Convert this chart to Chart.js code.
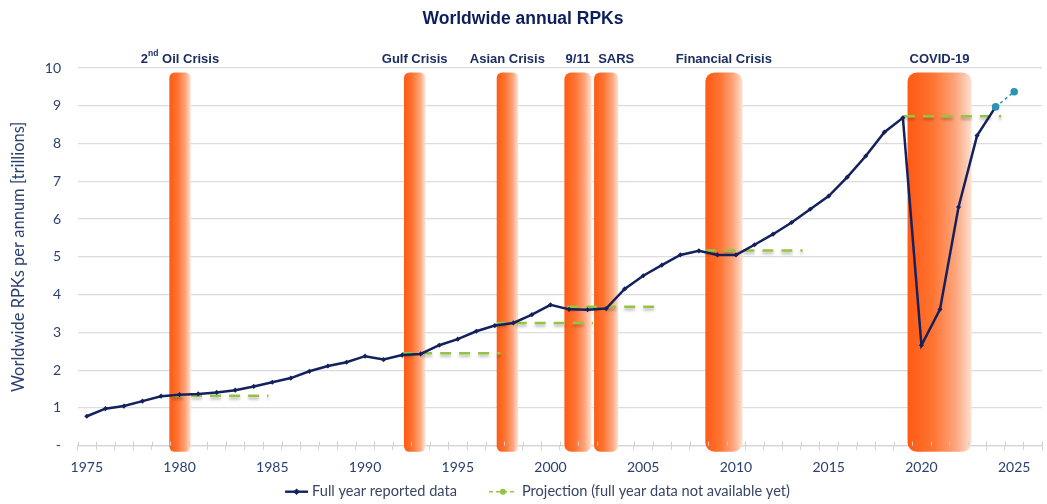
<!DOCTYPE html>
<html>
<head>
<meta charset="utf-8">
<title>Worldwide annual RPKs</title>
<script src="https://cdn.jsdelivr.net/npm/chart.js@4.4.1/dist/chart.umd.min.js"></script>
<style>
  html, body { margin: 0; padding: 0; background: #fff; }
  #wrap { width: 1047px; height: 504px; }
</style>
</head>
<body>
<div id="wrap"><canvas id="rpkChart"></canvas></div>
<script>
// full year reported RPKs, trillions
const years = [1975, 1976, 1977, 1978, 1979, 1980, 1981, 1982, 1983, 1984,
               1985, 1986, 1987, 1988, 1989, 1990, 1991, 1992, 1993, 1994,
               1995, 1996, 1997, 1998, 1999, 2000, 2001, 2002, 2003, 2004,
               2005, 2006, 2007, 2008, 2009, 2010, 2011, 2012, 2013, 2014,
               2015, 2016, 2017, 2018, 2019, 2020, 2021, 2022, 2023, 2024];
const rpk = [0.78, 0.98, 1.05, 1.18, 1.31, 1.35, 1.37, 1.41, 1.47, 1.57,
             1.68, 1.79, 1.97, 2.11, 2.21, 2.37, 2.28, 2.40, 2.43, 2.66,
             2.82, 3.03, 3.18, 3.25, 3.47, 3.73, 3.61, 3.60, 3.63, 4.15,
             4.50, 4.78, 5.05, 5.16, 5.05, 5.05, 5.32, 5.60, 5.91, 6.26,
             6.61, 7.11, 7.67, 8.30, 8.68, 2.66, 3.61, 6.32, 8.21, 8.97];

// projection (full year data not available yet)
const projYears = [2024, 2025];
const projRpk = [8.97, 9.37];

// crisis periods
const crisisNames = ['2nd Oil Crisis', 'Gulf Crisis', 'Asian Crisis', '9/11', 'SARS', 'Financial Crisis', 'COVID-19'];
const crisisStart = [1979.45, 1992.1, 1997.1, 2000.75, 2002.35, 2008.35, 2019.25];
const crisisEnd   = [1980.6, 1993.25, 1998.25, 2002.2, 2003.65, 2010.35, 2022.7];

// pre-crisis traffic level carried forward
const levelStart = [1979.6, 1992.0, 1997.1, 2000.9, 2008.35, 2019.05];
const levelEnd   = [1984.8, 1997.3, 2002.3, 2005.9, 2013.6, 2024.3];
const levelValue = [1.32, 2.45, 3.25, 3.68, 5.17, 8.72];

// axis labels
const xLabelYears = [1975, 1980, 1985, 1990, 1995, 2000, 2005, 2010, 2015, 2020, 2025];
const yTickValues = [0, 1, 2, 3, 4, 5, 6, 7, 8, 9, 10];

// legend entries
const legendTexts = ['Full year reported data', 'Projection (full year data not available yet)'];

const NAVY = '#14215c';
const TEAL = '#2a93b6';
const GREEN = '#95c540';
const TEXT = '#2b3f70';
const LABEL_FONT = 'bold 13px "Liberation Sans", Arial, sans-serif';
const SUP_FONT = 'bold 8.5px "Liberation Sans", Arial, sans-serif';
const LEGEND_FONT = '14.6px Lato, sans-serif';

// orange rounded bands behind the series, with labels above the plot
const crisisBands = {
    id: 'crisisBands',
    beforeDatasetsDraw(chart) {
        const {ctx, scales: {x, y}} = chart;
        const top = y.getPixelForValue(9.88);
        const bottom = y.getPixelForValue(0) + 6;
        ctx.save();
        crisisNames.forEach((name, i) => {
            const x0 = x.getPixelForValue(crisisStart[i]);
            const x1 = x.getPixelForValue(crisisEnd[i]);
            const w = x1 - x0;
            const grad = ctx.createLinearGradient(x0, 0, x1, 0);
            grad.addColorStop(0, '#ff5a14');
            grad.addColorStop(0.4, '#ff7432');
            grad.addColorStop(0.75, '#fda57c');
            grad.addColorStop(1, '#fde0d0');
            ctx.fillStyle = grad;
            ctx.beginPath();
            ctx.roundRect(x0, top, w, bottom - top, Math.min(9, w / 4));
            ctx.fill();
        });
        ctx.restore();
    },
    afterDraw(chart) {
        const {ctx, chartArea, scales: {x}} = chart;
        const ly = chartArea.top - 9;
        ctx.save();
        ctx.fillStyle = '#1b2d62';
        ctx.textBaseline = 'middle';
        ctx.textAlign = 'left';
        let prevRight = -Infinity;
        crisisNames.forEach((name, i) => {
            const m = name.match(/^(\d+)(st|nd|rd|th)(.*)$/);
            const parts = m ? [[m[1], 0], [m[2], 1], [m[3], 0]] : [[name, 0]];
            const widths = parts.map(([t, sup]) => {
                ctx.font = sup ? SUP_FONT : LABEL_FONT;
                return ctx.measureText(t).width;
            });
            const total = widths.reduce((a, b) => a + b, 0);
            const cx = (x.getPixelForValue(crisisStart[i]) + x.getPixelForValue(crisisEnd[i])) / 2;
            let left = cx - total / 2;
            if (left < prevRight + 8) left = prevRight + 8;
            let px = left;
            parts.forEach(([t, sup], k) => {
                ctx.font = sup ? SUP_FONT : LABEL_FONT;
                ctx.fillText(t, px, sup ? ly - 5 : ly);
                px += widths[k];
            });
            prevRight = left + total;
        });
        ctx.restore();
    }
};

// small tick marks across the x axis line, one between each year
const axisTicks = {
    id: 'axisTicks',
    afterDatasetsDraw(chart) {
        const {ctx, chartArea, scales: {x}} = chart;
        ctx.save();
        ctx.strokeStyle = '#cfcfcf';
        ctx.lineWidth = 1;
        for (let v = x.min; v <= x.max + 1e-6; v += 1) {
            const px = Math.round(x.getPixelForValue(v)) + 0.5;
            ctx.beginPath();
            ctx.moveTo(px, chartArea.bottom - 4);
            ctx.lineTo(px, chartArea.bottom);
            ctx.stroke();
        }
        ctx.restore();
    }
};

// bottom legend: solid line with diamond, dashed line with dot
const lineLegend = {
    id: 'lineLegend',
    afterDraw(chart) {
        const {ctx, chartArea, width} = chart;
        const ly = chartArea.bottom + 46;
        const iconW = [23, 28];
        const gap = 32;
        ctx.save();
        ctx.font = LEGEND_FONT;
        const textW = legendTexts.map(t => ctx.measureText(t).width);
        const total = iconW[0] + 4 + textW[0] + gap + iconW[1] + 5 + textW[1];
        let px = width / 2 - total / 2 + 14;

        // reported data
        ctx.strokeStyle = NAVY; ctx.fillStyle = NAVY; ctx.lineWidth = 2.4;
        ctx.beginPath(); ctx.moveTo(px, ly); ctx.lineTo(px + iconW[0], ly); ctx.stroke();
        const dx = px + iconW[0] / 2;
        ctx.beginPath();
        ctx.moveTo(dx, ly - 3.3); ctx.lineTo(dx + 3.3, ly); ctx.lineTo(dx, ly + 3.3); ctx.lineTo(dx - 3.3, ly);
        ctx.fill();
        px += iconW[0] + 4;
        ctx.fillStyle = '#3a4565';
        ctx.textBaseline = 'middle';
        ctx.fillText(legendTexts[0], px, ly);
        px += textW[0] + gap;

        // projection
        ctx.strokeStyle = GREEN; ctx.fillStyle = GREEN; ctx.lineWidth = 1.6;
        ctx.setLineDash([4, 3]);
        ctx.beginPath(); ctx.moveTo(px, ly); ctx.lineTo(px + iconW[1], ly); ctx.stroke();
        ctx.setLineDash([]);
        ctx.beginPath(); ctx.arc(px + iconW[1] / 2, ly, 3, 0, Math.PI * 2); ctx.fill();
        px += iconW[1] + 5;
        ctx.fillStyle = '#3a4565';
        ctx.fillText(legendTexts[1], px, ly);
        ctx.restore();
    }
};

// soft shadow under the dashed level lines
const levelShadow = {
    id: 'levelShadow',
    beforeDatasetDraw(chart, args) {
        if (chart.data.datasets[args.index].isLevel) {
            const ctx = chart.ctx;
            ctx.save();
            ctx.shadowColor = 'rgba(0,0,0,0.28)';
            ctx.shadowBlur = 3;
            ctx.shadowOffsetY = 2.5;
        }
    },
    afterDatasetDraw(chart, args) {
        if (chart.data.datasets[args.index].isLevel) {
            chart.ctx.restore();
        }
    }
};

const levelDatasets = levelValue.map((v, i) => ({
    label: 'level' + i,
    isLevel: true,
    data: [{x: levelStart[i], y: v}, {x: levelEnd[i], y: v}],
    borderColor: GREEN,
    borderWidth: 2.5,
    borderDash: [11, 8],
    pointRadius: 0,
    order: 3
}));

new Chart('rpkChart', {
    type: 'line',
    data: {
        datasets: [
            {
                label: legendTexts[0],
                data: years.map((yr, i) => ({x: yr, y: rpk[i]})),
                borderColor: NAVY,
                backgroundColor: NAVY,
                borderWidth: 2.5,
                pointStyle: 'rectRot',
                pointRadius: 2.6,
                pointBorderWidth: 0,
                tension: 0,
                order: 1
            },
            {
                label: legendTexts[1],
                data: projYears.map((yr, i) => ({x: yr, y: projRpk[i]})),
                borderColor: TEAL,
                backgroundColor: TEAL,
                borderWidth: 1.5,
                borderDash: [3, 3],
                pointStyle: 'circle',
                pointRadius: 3.8,
                pointBorderWidth: 0,
                order: 0
            },
            ...levelDatasets
        ]
    },
    options: {
        responsive: true,
        maintainAspectRatio: false,
        animation: false,
        layout: { padding: {left: 4, right: 5, top: 0, bottom: 18.5} },
        plugins: {
            tooltip: { enabled: false },
            legend: { display: false },
            title: {
                display: true,
                text: 'Worldwide annual RPKs',
                color: '#0c1f5c',
                font: { family: '"Liberation Sans", Arial, sans-serif', size: 17.5, weight: 'bold' },
                padding: { top: 9, bottom: 38 }
            }
        },
        scales: {
            x: {
                type: 'linear',
                min: 1974.5,
                max: 2026.5,
                afterBuildTicks: (scale) => {
                    const t = [];
                    for (let v = 1975; v <= 2026; v++) t.push({value: v});
                    scale.ticks = t;
                },
                ticks: {
                    autoSkip: false,
                    maxRotation: 0,
                    color: TEXT,
                    font: { family: 'Lato', size: 14 },
                    padding: 9.5,
                    callback: (v) => xLabelYears.includes(v) ? String(v) : ''
                },
                grid: {
                    offset: true,
                    drawOnChartArea: false,
                    tickLength: 4,
                    color: '#cfcfcf'
                },
                border: { color: '#d4d4d4', width: 1.3 }
            },
            y: {
                min: 0,
                max: 10,
                afterBuildTicks: (scale) => { scale.ticks = yTickValues.map(v => ({value: v})); },
                ticks: {
                    color: TEXT,
                    font: { family: 'Lato', size: 14 },
                    padding: 16.5,
                    callback: (v) => v === 0 ? '-' : v
                },
                grid: { color: '#dcdcdc', lineWidth: 1.3, drawTicks: false },
                border: { display: false },
                title: {
                    display: true,
                    text: 'Worldwide RPKs per annum [trillions]',
                    color: TEXT,
                    font: { family: 'Lato', size: 16.5 },
                    padding: { top: 4.5, bottom: 0 }
                }
            }
        }
    },
    plugins: [crisisBands, axisTicks, lineLegend, levelShadow]
});
</script>
</body>
</html>
